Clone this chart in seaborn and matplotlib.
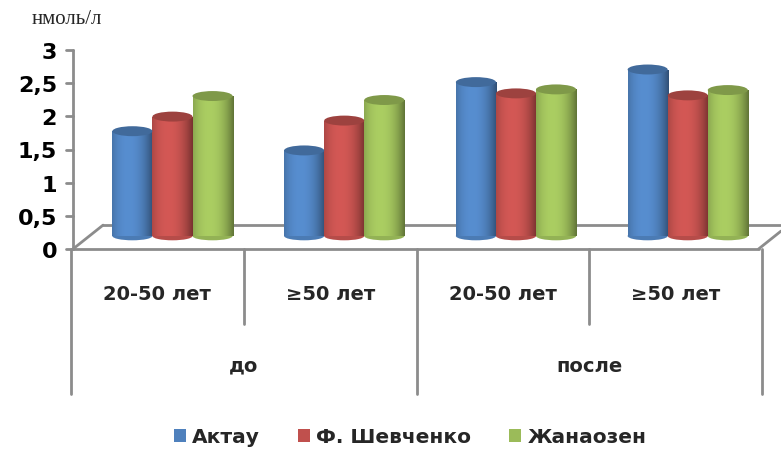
import numpy as np
import pandas as pd
import matplotlib
matplotlib.use("Agg")
import matplotlib.pyplot as plt
import matplotlib.colors as mcolors
from matplotlib.patches import Ellipse, Patch
import seaborn as sns

# ---- data ----
periods = ["до", "до", "после", "после"]
ages = ["20-50 лет", "≥50 лет", "20-50 лет", "≥50 лет"]
cities = ["Актау", "Ф. Шевченко", "Жанаозен"]
aktau = [1.58, 1.29, 2.32, 2.51]
shevchenko = [1.80, 1.74, 2.15, 2.12]
zhanaozen = [2.11, 2.05, 2.21, 2.20]
y_ticks = [0, 0.5, 1, 1.5, 2, 2.5, 3]
y_tick_labels = ["0", "0,5", "1", "1,5", "2", "2,5", "3"]
unit_label = "нмоль/л"

colors = ["#4F81BD", "#C0504D", "#9BBB59"]

sns.set_theme(style="white")
plt.rcParams["font.family"] = ["DejaVu Sans"]

rows = []
for i in range(len(ages)):
    for c, vals in zip(cities, [aktau, shevchenko, zhanaozen]):
        rows.append({"cat": i, "city": c, "val": vals[i]})
df = pd.DataFrame(rows)

W, H = 781, 452
fig = plt.figure(figsize=(W / 100, H / 100), dpi=100)

# front plane: value axis, floor and category frame
front = fig.add_axes([71 / W, 1 - 250 / H, 691 / W, 199 / H])
# bar plane: set a little behind (up and to the right) as in a 3-D chart
bars_ax = fig.add_axes([86.6 / W, 1 - 237 / H, 687 / W, 199 / H])

n = len(ages)
for a in (front, bars_ax):
    a.set_xlim(-0.5, n - 0.5)
    a.set_ylim(0, 3)
    a.set_facecolor("none")

sns.barplot(data=df, x="cat", y="val", hue="city", hue_order=cities,
            palette=colors, width=0.70, ax=bars_ax, legend=False,
            native_scale=True, saturation=1, linewidth=0)

# cylinder shading
grad = np.linspace(-1, 1, 64)
shade = 1 - np.abs(grad + 0.2) ** 2.2
for p in list(bars_ax.patches):
    col = np.array(mcolors.to_rgb(p.get_facecolor()))
    img = np.clip(col[None, None, :] * (0.78 + 0.32 * shade[None, :, None]), 0, 1)
    x0, w, h = p.get_x(), p.get_width(), p.get_height()
    im = bars_ax.imshow(img, extent=[x0, x0 + w, 0, h], aspect="auto",
                        zorder=2, interpolation="bilinear")
    im.set_clip_path(p)
    p.set_alpha(0)
    bars_ax.add_patch(Ellipse((x0 + w / 2, h), w, 0.15, facecolor=col * 0.82,
                              edgecolor="none", zorder=3, clip_on=False))
    bars_ax.add_patch(Ellipse((x0 + w / 2, 0), w, 0.13, facecolor=col * 0.95,
                              edgecolor="none", zorder=1.9, clip_on=False))
bars_ax.set_xlim(-0.5, n - 0.5)
bars_ax.set_ylim(0, 3)
bars_ax.axis("off")

# front axis styling
gray = "#8c8c8c"
for s in ["top", "right", "bottom", "left"]:
    front.spines[s].set_visible(False)
front.set_xticks([])
front.set_xlabel("")
front.set_ylabel("")
front.set_yticks(y_ticks)
front.set_yticklabels(y_tick_labels, fontsize=16, fontweight="bold", color="black")
front.tick_params(axis="y", which="major", left=False, length=0, pad=10)

ax_x = -0.5 + 2 / 172.75  # value axis sits slightly inside the frame edge
front.plot([ax_x, ax_x], [0, 3], color=gray, lw=2, clip_on=False)
for t in y_ticks:
    front.plot([ax_x - 0.04, ax_x], [t, t], color=gray, lw=2, clip_on=False)

# 3D floor
dx, dy = 0.174, 0.36
x_right = n - 0.5 - 0.02
front.plot([ax_x, x_right], [0, 0], color=gray, lw=2, clip_on=False, zorder=1)
front.plot([ax_x, ax_x + dx], [0, dy], color=gray, lw=2, clip_on=False, zorder=1)
front.plot([ax_x + dx, x_right + 0.13], [dy, dy], color=gray, lw=2, clip_on=False, zorder=1)
front.plot([x_right, x_right + 0.13], [0, dy * 0.75], color=gray, lw=2, clip_on=False, zorder=1)

# category frame below the floor
trans = front.get_xaxis_transform()
for b in range(n + 1):
    xb = b - 0.5
    long_line = (b == 0 or b == n or periods[b - 1] != periods[b])
    y_end = -0.73 if long_line else -0.378
    front.plot([xb, xb], [0, y_end], color=gray, lw=2, transform=trans,
               clip_on=False)
for i, a in enumerate(ages):
    front.text(i, -0.226, a, transform=trans, ha="center", va="center",
               fontsize=14, fontweight="bold")
groups = []
for i, p in enumerate(periods):
    if not groups or groups[-1][0] != p:
        groups.append([p, i, i])
    else:
        groups[-1][2] = i
for p, i0, i1 in groups:
    front.text((i0 + i1) / 2, -0.585, p, transform=trans, ha="center",
               va="center", fontsize=14, fontweight="bold")

fig.text(67 / W, 1 - 19 / H, unit_label, ha="center", va="center",
         fontsize=15, family=["Liberation Serif", "DejaVu Serif"])

handles = [Patch(facecolor=c, edgecolor="none") for c in colors]
fig.legend(handles, cities, loc="center", bbox_to_anchor=(0.525, 1 - 438 / H),
           ncol=3, frameon=False, prop={"size": 14.5, "weight": "bold"},
           handlelength=0.6, handleheight=0.6, handletextpad=0.3,
           columnspacing=1.9)

fig.savefig("out.png", dpi=100, facecolor="white")
